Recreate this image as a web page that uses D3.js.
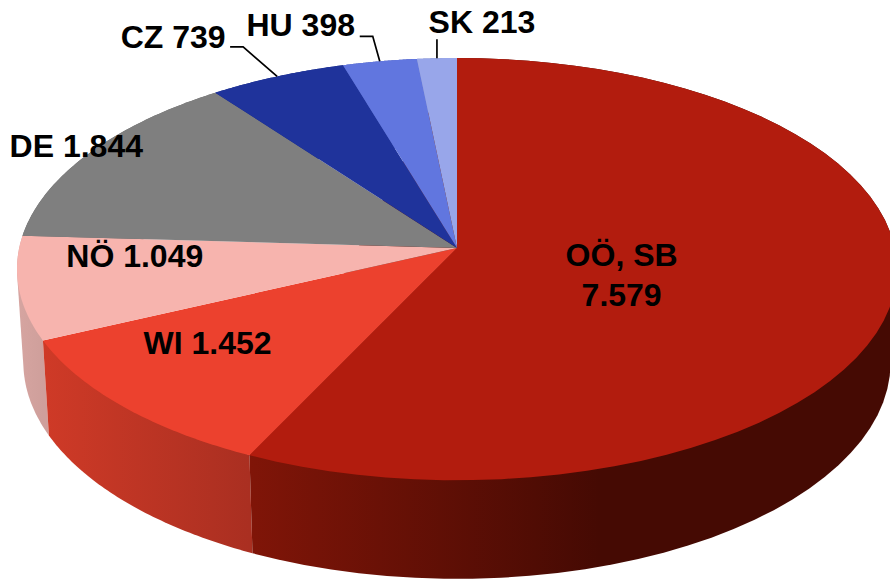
<!DOCTYPE html>
<html>
<head>
    <script src="https://d3js.org/d3.v7.min.js"></script>
    <style>
        html, body { margin: 0; background: #fff; }
        svg { display: block; }
    </style>
</head>
<body>
    <svg width="890" height="580"></svg>

    <script>
        const regions = ["OÖ, SB", "WI", "NÖ", "DE", "CZ", "HU", "SK"];
        const amounts = [7579, 1452, 1049, 1844, 739, 398, 213];
        const amountLabels = ["7.579", "1.452", "1.049", "1.844", "739", "398", "213"];

        const topColors = ["#b21c0e", "#ec412e", "#f7b4ae", "#7f7f7f", "#1f339b", "#6176df", "#98a6ea"];
        const sideLeft = ["#801508", "#cf3a27", "#d6a5a1", "#666666", "#182a80", "#4f60b8", "#7d89c2"];
        const sideRight = ["#450a03", "#aa2f21", "#cf9f9b", "#666666", "#182a80", "#4f60b8", "#7d89c2"];

        // Label placement relative to the middle of each slice's rim
        const labelDx = [-272, 85, 116, -13, -104, -79, 45];
        const labelDy = [-29, -52, -21, 4, -28, -25, -25];
        // Leader elbow relative to the rim, null = no leader
        const leaderDx = [null, null, null, null, -34, -7, 0];
        const leaderDy = [null, null, null, null, -29.5, -25, -19];
        const leaderRun = [0, 0, 0, 0, -13, -13, 0];

        const svg = d3.select("svg");
        const apexX = 457, apexY = 248;
        const tilt = 0.1; // perspective strength
        const depth = 92.6, shrinkX = 0.9855, stretchY = 1.026;

        const xScale = d3.scaleLinear().domain([0, 1]).range([apexX, apexX + 437.8]);
        const yScale = d3.scaleLinear().domain([0, 1]).range([apexY, apexY + 209]);

        // disc point (radius r, angle a clockwise from the back) to screen
        function project(r, a, low) {
            const x = r * Math.sin(a);
            const y = -r * Math.cos(a);
            const w = 1 - tilt * y;
            return [
                apexX + (xScale(x / w) - apexX) * (low ? shrinkX : 1),
                apexY + (yScale(y / w) - apexY) * (low ? stretchY : 1) + (low ? depth : 0)
            ];
        }

        const slices = d3.pie().sort(null)(amounts);
        const line = d3.line();
        const rimAngles = d => d3.range(0, 61).map(i => d.startAngle + (d.endAngle - d.startAngle) * i / 60);

        const defs = svg.append("defs");
        slices.forEach((d, i) => {
            const xs = rimAngles(d).map(a => project(1, a)[0]);
            // the rim runs right-to-left in front, gradient stays left to right
            const g = defs.append("linearGradient")
                .attr("id", "side" + i)
                .attr("gradientUnits", "userSpaceOnUse")
                .attr("x1", i === 0 ? 250 : d3.min(xs)).attr("x2", i === 0 ? 600 : d3.max(xs))
                .attr("y1", 0).attr("y2", 0);
            g.append("stop").attr("offset", 0).attr("stop-color", sideLeft[i]);
            g.append("stop").attr("offset", 1).attr("stop-color", sideRight[i]);
        });

        // Side walls first, back slices at the bottom, tops cover the rest.
        // Hull so the tangent edge at the far left stays filled.
        svg.append("g").selectAll("path")
            .data(slices.slice().reverse())
            .enter()
            .append("path")
            .attr("fill", d => `url(#side${d.index})`)
            .attr("d", d => {
                const angles = rimAngles(d);
                const upper = angles.map(a => project(1, a));
                const lower = angles.map(a => project(1, a, true));
                return line(d3.polygonHull(upper.concat(lower))) + "Z";
            });

        // Top faces
        svg.append("g").selectAll("path")
            .data(slices)
            .enter()
            .append("path")
            .attr("fill", (d, i) => topColors[i])
            .attr("d", d => line([[apexX, apexY]].concat(rimAngles(d).map(a => project(1, a)))) + "Z");

        // Leader lines
        const midRim = d => project(1, (d.startAngle + d.endAngle) / 2);
        svg.append("g").selectAll("path")
            .data(slices.filter(d => leaderDx[d.index] !== null))
            .enter()
            .append("path")
            .attr("fill", "none")
            .attr("stroke", "#000")
            .attr("stroke-width", 1.7)
            .attr("d", d => {
                const p = midRim(d);
                const elbow = [p[0] + leaderDx[d.index], p[1] + leaderDy[d.index]];
                return line([p, elbow, [elbow[0] + leaderRun[d.index], elbow[1]]]);
            });

        // Labels
        const labels = svg.append("g").selectAll("text")
            .data(slices)
            .enter()
            .append("text")
            .attr("text-anchor", "middle")
            .attr("font-family", "'Liberation Sans', Arial, sans-serif")
            .attr("font-weight", "bold")
            .attr("font-size", "32px")
            .attr("fill", "#000")
            .attr("x", d => midRim(d)[0] + labelDx[d.index])
            .attr("y", d => midRim(d)[1] + labelDy[d.index]);

        labels.each(function (d) {
            const t = d3.select(this);
            const x = t.attr("x");
            if (d.index === 0) {
                t.append("tspan").attr("x", x).text(regions[0]);
                t.append("tspan").attr("x", x).attr("dy", 40).text(amountLabels[0]);
            } else {
                t.text(regions[d.index] + " " + amountLabels[d.index]);
            }
        });
    </script>
</body>
</html>
